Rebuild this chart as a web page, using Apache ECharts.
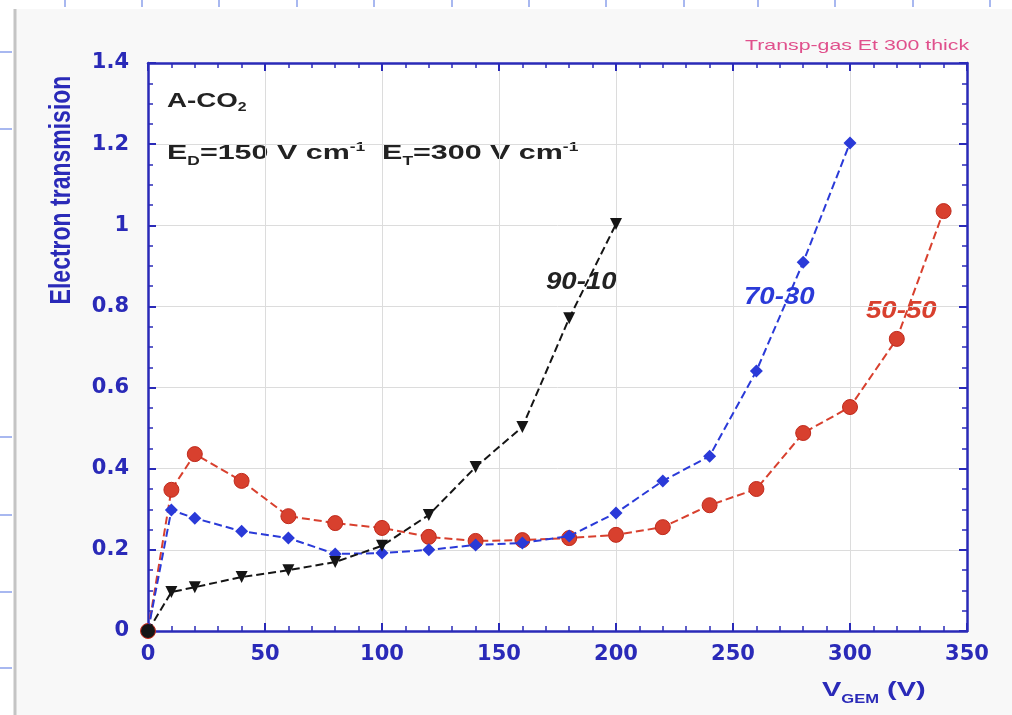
<!DOCTYPE html>
<html>
<head>
<meta charset="utf-8">
<script src="https://cdn.jsdelivr.net/npm/echarts@6/dist/echarts.min.js"></script>
<style>
html,body{margin:0;padding:0;background:#ffffff;}
#c{width:1012px;height:715px;}
</style>
</head>
<body>
<div id="c"></div>
<script>
const xVals = [0, 10, 20, 40, 60, 80, 100, 120, 140, 160, 180, 200, 220, 240, 260, 280, 300, 320, 340];
const s9010 = [0, 0.096, 0.108, 0.133, 0.150, 0.170, 0.210, 0.286, 0.404, 0.503, 0.771, 1.003];
const s7030 = [0, 0.298, 0.278, 0.246, 0.229, 0.190, 0.192, 0.200, 0.212, 0.217, 0.234, 0.291, 0.370, 0.431, 0.641, 0.909, 1.203];
const s5050 = [0, 0.348, 0.436, 0.370, 0.283, 0.266, 0.254, 0.232, 0.222, 0.224, 0.229, 0.237, 0.256, 0.310, 0.350, 0.488, 0.552, 0.720, 1.035];
const xTicks = [0, 50, 100, 150, 200, 250, 300, 350];
const yTicks = [0, 0.2, 0.4, 0.6, 0.8, 1, 1.2, 1.4];

const AX = '#2a2ab8';
const FONT = 'Liberation Sans, Arial, sans-serif';
const WIDE = 'DejaVu Sans, sans-serif';
const SX = 1.42;

function pairs(ys) { return ys.map((y, i) => [xVals[i], y]); }

const chart = echarts.init(document.getElementById('c'), null, {renderer: 'canvas'});

function axisStyle(split) {
  return {
    axisLine: {show: true, onZero: false, lineStyle: {color: AX, width: 2.5}},
    axisTick: {show: true, inside: true, length: 8, lineStyle: {color: AX, width: 2}},
    minorTick: {show: true, splitNumber: split, length: 5, lineStyle: {color: AX, width: 1.5}},
  };
}

const decor = [];
decor.push({type: 'rect', shape: {x: 16, y: 9, width: 996, height: 706}, style: {fill: '#f8f8f8'}, silent: true, z: -10});
decor.push({type: 'line', shape: {x1: 15, y1: 9, x2: 15, y2: 715}, style: {stroke: '#c4c4c4', lineWidth: 3}, silent: true});
[65, 142, 219, 297, 374, 452, 529, 606, 684, 758, 835, 913, 990].forEach(x => {
  decor.push({type: 'line', shape: {x1: x, y1: 0, x2: x, y2: 7}, style: {stroke: '#a8b8f0', lineWidth: 2}, silent: true});
});
[52, 129, 437, 515, 592, 668].forEach(y => {
  decor.push({type: 'line', shape: {x1: 0, y1: y, x2: 12, y2: y}, style: {stroke: '#a8b8f0', lineWidth: 2}, silent: true});
});

const option = {
  backgroundColor: '#ffffff',
  animation: false,
  grid: {left: 148, right: 45, top: 63, bottom: 84, show: true, backgroundColor: '#ffffff', borderWidth: 0},
  xAxis: [
    Object.assign({
      type: 'value', min: xTicks[0], max: xTicks[xTicks.length - 1], interval: 50,
      position: 'bottom',
      axisLabel: {color: AX, fontFamily: WIDE, fontWeight: 'bold', fontSize: 21, margin: 13},
      splitLine: {show: true, lineStyle: {color: '#dcdcdc', width: 1}},
    }, axisStyle(5)),
    Object.assign({
      type: 'value', min: xTicks[0], max: xTicks[xTicks.length - 1], interval: 50,
      position: 'top', axisLabel: {show: false}, splitLine: {show: false},
    }, axisStyle(5))
  ],
  yAxis: [
    Object.assign({
      type: 'value', min: yTicks[0], max: yTicks[yTicks.length - 1], interval: 0.2,
      position: 'left',
      axisLabel: {color: AX, fontFamily: WIDE, fontWeight: 'bold', fontSize: 21, margin: 19},
      splitLine: {show: true, lineStyle: {color: '#dcdcdc', width: 1}},
    }, axisStyle(4)),
    Object.assign({
      type: 'value', min: yTicks[0], max: yTicks[yTicks.length - 1], interval: 0.2,
      position: 'right', axisLabel: {show: false}, splitLine: {show: false},
    }, axisStyle(4))
  ],
  series: [
    {
      name: '70-30', type: 'line', data: pairs(s7030), symbol: 'diamond', symbolSize: 13,
      lineStyle: {type: 'dashed', color: '#2a3ad8', width: 2},
      itemStyle: {color: '#2a3ad8'}, z: 3
    },
    {
      name: '50-50', type: 'line', data: pairs(s5050), symbol: 'circle', symbolSize: 15,
      lineStyle: {type: 'dashed', color: '#d8402e', width: 2},
      itemStyle: {color: '#d8402e', borderColor: '#c02a1c', borderWidth: 1}, z: 2
    },
    {
      name: '90-10', type: 'line',
      data: pairs(s9010).map((p, i) => i === 0 ? {value: p, symbol: 'circle', symbolRotate: 0, symbolSize: 14} : p),
      symbol: 'triangle', symbolRotate: 180, symbolSize: 12,
      lineStyle: {type: 'dashed', color: '#151515', width: 2},
      itemStyle: {color: '#151515'}, z: 4
    }
  ],
  graphic: decor.concat([
    {type: 'text', x: 62, y: 190, rotation: Math.PI / 2, scaleY: 1.3, style: {text: 'Electron transmision', font: 'bold 23px ' + FONT, fill: AX, textAlign: 'center', textVerticalAlign: 'middle'}, silent: true},
    {type: 'text', x: 167, y: 88, scaleX: 1.32, style: {
      rich: {b: {font: 'bold 21px ' + FONT, fill: '#222'}, sub: {font: 'bold 12px ' + FONT, fill: '#222', padding: [14, 0, 0, 0]}},
      text: '{b|A-CO}{sub|2}'
    }, silent: true},
    {type: 'text', x: 167, y: 139, scaleX: 1.45, style: {
      rich: {b: {font: 'bold 21px ' + FONT, fill: '#222'}, sub: {font: 'bold 12px ' + FONT, fill: '#222', padding: [17, 0, 0, 0]}, sup: {font: 'bold 12px ' + FONT, fill: '#222', padding: [0, 0, 12, 0]}},
      text: '{b|E}{sub|D}{b|=150 V cm}{sup|-1}{b|  E}{sub|T}{b|=300 V cm}{sup|-1}'
    }, silent: true},
    {type: 'text', x: 745, y: 38, scaleX: SX, style: {text: 'Transp-gas Et 300 thick', font: '15px ' + FONT, fill: '#e0508c'}, silent: true},
    {type: 'text', x: 546, y: 271, scaleX: 1.2, style: {text: '90-10', font: 'italic bold 23px ' + FONT, fill: '#222'}, silent: true},
    {type: 'text', x: 744, y: 286, scaleX: 1.2, style: {text: '70-30', font: 'italic bold 23px ' + FONT, fill: '#2a3ad8'}, silent: true},
    {type: 'text', x: 866, y: 300, scaleX: 1.2, style: {text: '50-50', font: 'italic bold 23px ' + FONT, fill: '#d8402e'}, silent: true},
    {type: 'text', x: 822, y: 675, scaleX: 1.38, style: {
      rich: {b: {font: 'bold 21px ' + FONT, fill: AX}, sub: {font: 'bold 12px ' + FONT, fill: AX, padding: [19, 0, 0, 0]}},
      text: '{b|V}{sub|GEM}{b| (V)}'
    }, silent: true}
  ])
};
chart.setOption(option);
</script>
</body>
</html>
